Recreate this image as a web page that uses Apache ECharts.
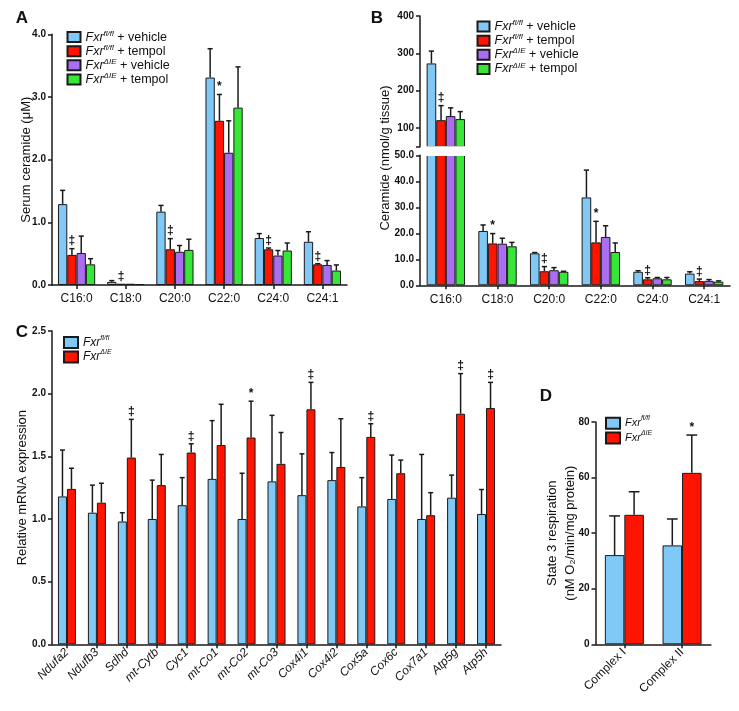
<!DOCTYPE html>
<html><head><meta charset="utf-8">
<script src="https://cdn.jsdelivr.net/npm/echarts/dist/echarts.min.js"></script>
<style>html,body{margin:0;padding:0;background:#fff}#c{width:739px;height:711px}</style>
</head><body><div id="c"></div>
<script>
// ---------- data ----------
const catsAB = ['C16:0', 'C18:0', 'C20:0', 'C22:0', 'C24:0', 'C24:1'];
// Panel A: serum ceramide (uM), mean and SEM
const serumFfVeh = [1.29, 0.05, 1.17, 3.31, 0.75, 0.69];
const serumFfVehErr = [0.22, 0.02, 0.10, 0.46, 0.07, 0.16];
const serumFfTem = [0.48, 0.02, 0.57, 2.62, 0.57, 0.33];
const serumFfTemErr = [0.10, 0, 0.17, 0.42, 0.02, 0.01];
const serumKoVeh = [0.51, 0.02, 0.53, 2.11, 0.47, 0.32];
const serumKoVehErr = [0.27, 0, 0.10, 0.51, 0.08, 0.07];
const serumKoTem = [0.33, 0.015, 0.56, 2.83, 0.55, 0.23];
const serumKoTemErr = [0.09, 0, 0.17, 0.65, 0.12, 0.09];
const serumMarks = ['‡', '‡', '‡', '*', '‡', '‡'];
// Panel B: tissue ceramide (nmol/g)
const tisFfVeh = [273, 20.9, 12.3, 33.8, 5.2, 4.5];
const tisFfVehErr = [33, 2.3, 0.3, 10.5, 0.4, 0.7];
const tisFfTem = [121, 16.1, 5.4, 16.5, 2.3, 1.6];
const tisFfTemErr = [39, 3.8, 1.8, 8.1, 0.6, 0.8];
const tisKoVeh = [132, 16.0, 5.8, 18.6, 2.7, 1.7];
const tisKoVehErr = [22, 2.1, 1.0, 4.3, 0.3, 0.5];
const tisKoTem = [124, 15.0, 5.2, 12.8, 2.3, 1.4];
const tisKoTemErr = [20, 1.5, 0.2, 3.5, 0.7, 0.3];
const tisMarks = ['‡', '*', '‡', '*', '‡', '‡'];
const tisBreak = 50;
const tisTopTicks = [50, 100, 200, 300, 400];
const tisTopLabels = [100, 200, 300, 400];
// Panel C: relative mRNA expression
const genes = ['Ndufa2', 'Ndufb3', 'Sdhd', 'mt-Cytb', 'Cyc1', 'mt-Co1', 'mt-Co2', 'mt-Co3', 'Cox4i1', 'Cox4i2', 'Cox5a', 'Cox6c', 'Cox7a1', 'Atp5g', 'Atp5h'];
const mrnaFf = [1.18, 1.05, 0.98, 1.00, 1.11, 1.32, 1.00, 1.30, 1.19, 1.31, 1.10, 1.16, 1.00, 1.17, 1.04];
const mrnaFfErr = [0.37, 0.22, 0.07, 0.31, 0.22, 0.465, 0.365, 0.527, 0.33, 0.22, 0.23, 0.35, 0.515, 0.18, 0.195];
const mrnaKo = [1.24, 1.13, 1.49, 1.27, 1.53, 1.59, 1.65, 1.44, 1.875, 1.415, 1.655, 1.365, 1.03, 1.84, 1.885];
const mrnaKoErr = [0.165, 0.155, 0.305, 0.245, 0.07, 0.325, 0.29, 0.25, 0.215, 0.385, 0.105, 0.105, 0.18, 0.32, 0.205];
const mrnaMarks = ['', '', '‡', '', '‡', '', '*', '', '‡', '', '‡', '', '', '‡', '‡'];
// Panel D: state 3 respiration
const complexes = ['Complex I', 'Complex II'];
const respFf = [32.1, 35.6];
const respFfErr = [14.1, 9.5];
const respKo = [46.6, 61.7];
const respKoErr = [8.3, 13.6];
const respMarks = ['', '*'];
// legend names
const genoAB = ['fl/fl', 'fl/fl', 'ΔIE', 'ΔIE'];
const treatAB = [' + vehicle', ' + tempol', ' + vehicle', ' + tempol'];
const genoCD = ['fl/fl', 'ΔIE'];

// ---------- styling ----------
const FONT = '"Liberation Sans", Arial, Helvetica, sans-serif';
const INK = '#1a1a1a';
const colors4 = ['#80c8f5', '#ff1400', '#aa6ef0', '#37e637'];
const colors2 = ['#80c8f5', '#ff1400'];
const namesAB = genoAB.map((g, k) => 'Fxr' + g + treatAB[k]);
const namesCD = genoCD.map(g => 'Fxr' + g);
const axLine = { color: INK, width: 1.5 };

function legFmt(name) {
  const m = name.match(/^Fxr(fl\/fl|ΔIE)(.*)$/);
  return '{i|Fxr}{s|' + m[1] + '}' + (m[2] ? '{n|' + m[2] + '}' : '');
}
function richFor(size, lh) {
  return {
    i: { fontFamily: FONT, fontStyle: 'italic', fontSize: size, lineHeight: lh, color: '#111' },
    s: { fontFamily: FONT, fontStyle: 'italic', fontSize: Math.round(size * 0.62), verticalAlign: 'top', color: '#111' },
    n: { fontFamily: FONT, fontSize: size, lineHeight: lh, color: '#111' }
  };
}
function catAxis(gi, data, label) {
  return {
    gridIndex: gi, type: 'category', data: data,
    axisLine: { show: true, lineStyle: axLine },
    axisTick: { show: true, alignWithLabel: true, length: 4, lineStyle: axLine },
    axisLabel: Object.assign({ interval: 0, fontFamily: FONT, fontSize: 12, color: '#111', margin: 8 }, label || {}),
    splitLine: { show: false }
  };
}
function valAxis(gi, min, max, interval, dec, extra) {
  return Object.assign({
    gridIndex: gi, type: 'value', min: min, max: max, interval: interval,
    axisLine: { show: true, lineStyle: axLine },
    axisTick: { show: true, length: 4, lineStyle: axLine },
    axisLabel: { fontFamily: FONT, fontSize: 10, fontWeight: 'bold', color: '#111', margin: 6,
      formatter: v => v.toFixed(dec) },
    splitLine: { show: false },
    nameLocation: 'middle',
    nameMoveOverlap: false,
    nameTextStyle: { fontFamily: FONT, fontSize: 13, color: '#111' }
  }, extra || {});
}

const series = [];
function addBars(xi, yi, valsList, names, colors, bw) {
  valsList.forEach((vals, k) => series.push({
    type: 'bar', name: names[k], xAxisIndex: xi, yAxisIndex: yi, data: vals,
    barWidth: bw, barGap: '0%',
    itemStyle: { color: colors[k], borderColor: INK, borderWidth: 1 },
    emphasis: { disabled: true }
  }));
}
function addErr(xi, yi, valsList, errList, marksList, bw, filt) {
  const n = valsList.length;
  valsList.forEach((vals, k) => {
    const errs = errList[k];
    const marks = marksList[k];
    const data = vals.map((v, i) => [i, v, errs[i]]).filter(d => filt ? filt(d) : true);
    series.push({
      type: 'custom', xAxisIndex: xi, yAxisIndex: yi, data: data, z: 5, silent: true,
      renderItem: function (params, api) {
        const i = api.value(0), v = api.value(1), e = api.value(2);
        const b = api.coord([i, v]);
        const t = api.coord([i, v + e]);
        const x = b[0] + (k - (n - 1) / 2) * bw;
        const cap = bw * 0.55;
        const ch = [];
        if (e > 0) {
          ch.push({ type: 'line', shape: { x1: x, y1: b[1], x2: x, y2: t[1] }, style: { stroke: INK, lineWidth: 1.5 } });
          ch.push({ type: 'line', shape: { x1: x - cap / 2, y1: t[1], x2: x + cap / 2, y2: t[1] }, style: { stroke: INK, lineWidth: 1.5 } });
        }
        const m = marks && marks[i];
        if (m) ch.push({ type: 'text', x: x, y: t[1] - 1.5,
          style: { text: m, align: 'center', verticalAlign: 'bottom', font: 'bold 12px ' + FONT, fill: '#111' } });
        return { type: 'group', children: ch };
      }
    });
  });
}

// Panel A
const aVals = [serumFfVeh, serumFfTem, serumKoVeh, serumKoTem];
const aErrs = [serumFfVehErr, serumFfTemErr, serumKoVehErr, serumKoTemErr];
addBars(0, 0, aVals, namesAB, colors4, 9.3);
addErr(0, 0, aVals, aErrs, [null, serumMarks, null, null], 9.3);
// Panel B (broken axis)
const bVals = [tisFfVeh, tisFfTem, tisKoVeh, tisKoTem];
const bErrs = [tisFfVehErr, tisFfTemErr, tisKoVehErr, tisKoTemErr];
addBars(1, 1, bVals.map(a => a.map(v => v > tisBreak ? v : '-')), namesAB, colors4, 9.6);
addErr(1, 1, bVals, bErrs, [null, tisMarks, null, null], 9.6, d => d[1] > tisBreak);
addBars(2, 2, bVals, namesAB, colors4, 9.6);
addErr(2, 2, bVals, bErrs, [null, tisMarks, null, null], 9.6, d => d[1] + d[2] <= tisBreak);
// Panel C
const cVals = [mrnaFf, mrnaKo];
addBars(3, 3, cVals, namesCD, colors2, 9);
addErr(3, 3, cVals, [mrnaFfErr, mrnaKoErr], [null, mrnaMarks], 9);
// Panel D
const dVals = [respFf, respKo];
addBars(4, 4, dVals, namesCD, colors2, 19.5);
addErr(4, 4, dVals, [respFfErr, respKoErr], [null, respMarks], 19.5);

const legBase = { orient: 'vertical', icon: 'rect', itemGap: 0, padding: 0, selectedMode: false, formatter: legFmt };

const option = {
  animation: false,
  backgroundColor: '#fff',
  grid: [
    { left: 52, top: 34.3, width: 295, height: 250.7, outerBoundsMode: 'none' },
    { left: 420, top: 16, width: 310, height: 130.7, outerBoundsMode: 'none' },
    { left: 420, top: 155.3, width: 310, height: 130, outerBoundsMode: 'none' },
    { left: 52, top: 331, width: 449, height: 313.3, outerBoundsMode: 'none' },
    { left: 595.5, top: 422, width: 115.4, height: 222.3, outerBoundsMode: 'none' }
  ],
  xAxis: [
    catAxis(0, catsAB),
    Object.assign(catAxis(1, catsAB), { show: false }),
    catAxis(2, catsAB),
    catAxis(3, genes, { rotate: 45, fontStyle: 'italic', margin: 6 }),
    catAxis(4, complexes, { rotate: 45, margin: 6 })
  ],
  yAxis: [
    valAxis(0, 0, 4, 1, 1, { name: 'Serum ceramide (μM)', nameGap: 19 }),
    valAxis(1, tisBreak, 400, null, 0, {
      axisTick: { show: true, length: 4, lineStyle: axLine, customValues: tisTopTicks },
      axisLabel: { fontFamily: FONT, fontSize: 10, fontWeight: 'bold', color: '#111', margin: 6,
        customValues: tisTopLabels, formatter: v => String(v) }
    }),
    valAxis(2, 0, tisBreak, 10, 1),
    valAxis(3, 0, 2.5, 0.5, 1, { name: 'Relative mRNA expression', nameGap: 23 }),
    valAxis(4, 0, 80, 20, 0, { name: 'State 3 respiration\n(nM O₂/min/mg protein)', nameGap: 16,
      nameTextStyle: { fontFamily: FONT, fontSize: 13, color: '#111', lineHeight: 18 } })
  ],
  legend: [
    Object.assign({}, legBase, { data: namesAB, left: 66.5, top: 29.5, itemWidth: 13, itemHeight: 10,
      textStyle: { rich: richFor(12.5, 15.2) } }),
    Object.assign({}, legBase, { data: namesAB, left: 476.5, top: 19, itemWidth: 12, itemHeight: 10,
      textStyle: { rich: richFor(12.5, 15.2) } }),
    Object.assign({}, legBase, { data: namesCD, left: 63, top: 334.5, itemWidth: 14, itemHeight: 11,
      textStyle: { rich: richFor(12, 16) } }),
    Object.assign({}, legBase, { data: namesCD, left: 605, top: 415, itemWidth: 14, itemHeight: 11,
      textStyle: { rich: richFor(11, 16.5) } })
  ],
  graphic: [
    { type: 'text', x: 22, y: 18, style: { text: 'A', font: 'bold 17px ' + FONT, fill: '#111', align: 'center', verticalAlign: 'middle' } },
    { type: 'text', x: 377, y: 18, style: { text: 'B', font: 'bold 17px ' + FONT, fill: '#111', align: 'center', verticalAlign: 'middle' } },
    { type: 'text', x: 22, y: 332, style: { text: 'C', font: 'bold 17px ' + FONT, fill: '#111', align: 'center', verticalAlign: 'middle' } },
    { type: 'text', x: 546, y: 396, style: { text: 'D', font: 'bold 17px ' + FONT, fill: '#111', align: 'center', verticalAlign: 'middle' } },
    { type: 'text', x: 385, y: 158, rotation: Math.PI / 2,
      style: { text: 'Ceramide (nmol/g tissue)', font: '13px ' + FONT, fill: '#111', align: 'center', verticalAlign: 'middle' } },
    { type: 'rect', z: 100, shape: { x: 421, y: 146.2, width: 314, height: 9.8 }, style: { fill: '#fff' } }
  ],
  series: series
};
const chart = echarts.init(document.getElementById('c'), null, { renderer: 'canvas' });
chart.setOption(option);
</script></body></html>
